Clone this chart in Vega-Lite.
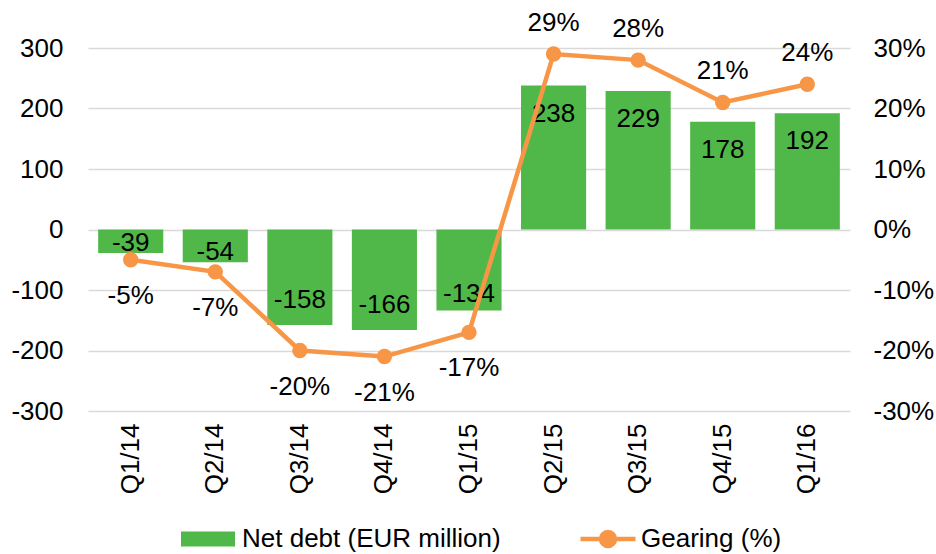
{
  "$schema": "https://vega.github.io/schema/vega-lite/v6.json",
  "autosize": "none",
  "width": 762,
  "height": 363,
  "padding": {"left": 88, "top": 48, "right": 86, "bottom": 143},
  "background": "white",
  "config": {
    "font": "Liberation Sans",
    "view": {"stroke": null},
    "axis": {"labelFont": "Liberation Sans", "labelFontSize": 26, "labelColor": "#000000", "domain": false, "ticks": false, "gridColor": "#D9D9D9", "gridWidth": 1.5, "title": null},
    "legend": {"labelFont": "Liberation Sans", "labelFontSize": 26, "labelColor": "#000000", "labelLimit": 400, "orient": "none", "direction": "horizontal", "title": null}
  },
  "data": {
    "values": [
      {"q": "Q1/14", "debt": -39, "gearing": -0.05},
      {"q": "Q2/14", "debt": -54, "gearing": -0.07},
      {"q": "Q3/14", "debt": -158, "gearing": -0.20},
      {"q": "Q4/14", "debt": -166, "gearing": -0.21},
      {"q": "Q1/15", "debt": -134, "gearing": -0.17},
      {"q": "Q2/15", "debt": 238, "gearing": 0.29},
      {"q": "Q3/15", "debt": 229, "gearing": 0.28},
      {"q": "Q4/15", "debt": 178, "gearing": 0.21},
      {"q": "Q1/16", "debt": 192, "gearing": 0.24}
    ]
  },
  "transform": [
    {"calculate": "replace(format(datum.gearing, '.0%'), '\u2212', '-')", "as": "gearingLabel"}
  ],
  "encoding": {
    "x": {"field": "q", "type": "nominal", "sort": null, "scale": {"paddingInner": 0.23, "paddingOuter": 0.12}, "axis": {"labelAngle": -90, "labelAlign": "right", "labelBaseline": "middle", "labelPadding": 12, "grid": false}}
  },
  "layer": [
    {
      "encoding": {
        "y": {"field": "debt", "type": "quantitative", "scale": {"domain": [-300, 300], "nice": false, "zero": false}, "axis": {"orient": "left", "values": [-300, -200, -100, 0, 100, 200, 300], "labelExpr": "replace(datum.label, '\u2212', '-')", "labelPadding": 25, "grid": true}}
      },
      "layer": [
        {"mark": {"type": "bar"}, "encoding": {"fill": {"datum": "Net debt (EUR million)", "type": "nominal", "scale": {"range": ["#50B848"]}, "legend": {"orient": "none", "legendX": 107, "legendY": 478, "symbolType": "M-2.7,-0.75H2.7V0.75H-2.7Z", "symbolSize": 400, "symbolStrokeWidth": 0, "labelOffset": 21}}}},
        {"transform": [{"filter": "datum.debt >= 0"}], "mark": {"type": "text", "fontSize": 26, "color": "#000000", "baseline": "middle", "dy": 28}, "encoding": {"text": {"field": "debt"}}},
        {"transform": [{"filter": "datum.debt < -150"}], "mark": {"type": "text", "fontSize": 26, "color": "#000000", "baseline": "middle", "dy": -25}, "encoding": {"text": {"field": "debt"}}},
        {"transform": [{"filter": "datum.debt < -100 && datum.debt >= -150"}], "mark": {"type": "text", "fontSize": 26, "color": "#000000", "baseline": "middle", "dy": -17}, "encoding": {"text": {"field": "debt"}}},
        {"transform": [{"filter": "datum.debt < 0 && datum.debt >= -100"}], "mark": {"type": "text", "fontSize": 26, "color": "#000000", "baseline": "middle", "dy": -10}, "encoding": {"text": {"field": "debt"}}}
      ]
    },
    {
      "encoding": {
        "y": {"field": "gearing", "type": "quantitative", "scale": {"domain": [-0.3, 0.3], "nice": false, "zero": false}, "axis": {"orient": "right", "format": ".0%", "labelExpr": "replace(datum.label, '\u2212', '-')", "values": [-0.3, -0.2, -0.1, 0, 0.1, 0.2, 0.3], "labelPadding": 23, "grid": false}}
      },
      "layer": [
        {"mark": {"type": "line", "strokeWidth": 4.5, "point": {"filled": true, "size": 180, "color": "#F79646"}}, "encoding": {"stroke": {"datum": "Gearing (%)", "type": "nominal", "scale": {"range": ["#F79646"]}, "legend": {"orient": "none", "legendX": 507, "legendY": 478, "symbolType": "M-2.75,0H2.75M-0.7,0A0.7,0.7 0 1,0 0.7,0A0.7,0.7 0 1,0 -0.7,0Z", "symbolSize": 400, "symbolStrokeWidth": 4.5, "symbolFillColor": "#F79646", "labelOffset": 20}}}},
        {"transform": [{"filter": "datum.gearing >= 0"}], "mark": {"type": "text", "fontSize": 26, "color": "#000000", "baseline": "middle", "dy": -31}, "encoding": {"text": {"field": "gearingLabel"}}},
        {"transform": [{"filter": "datum.gearing < 0"}], "mark": {"type": "text", "fontSize": 26, "color": "#000000", "baseline": "middle", "dy": 36}, "encoding": {"text": {"field": "gearingLabel"}}}
      ]
    }
  ],
  "resolve": {"scale": {"y": "independent"}}
}
